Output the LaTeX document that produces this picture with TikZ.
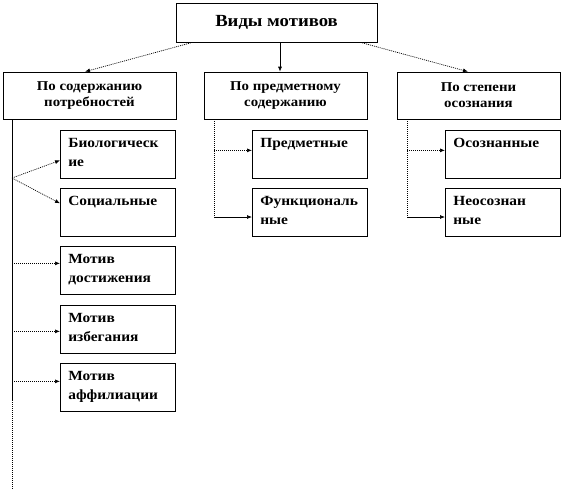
\documentclass[tikz,border=0pt]{standalone}
\usepackage{fontspec}
\setmainfont{Liberation Serif}[FakeStretch=1.1]
\usetikzlibrary{arrows.meta}

\begin{document}
\begin{tikzpicture}[x=1pt,y=-1pt,line width=0.7pt,
    box/.style={draw,align=center,font=\bfseries\fontsize{13.5}{16}\selectfont},
    kid/.style={draw,anchor=north west,text width=99pt,inner xsep=8pt,inner ysep=0pt,
      text height=17pt,text depth=31pt,align=left,font=\bfseries\fontsize{14}{19}\selectfont},
    arr/.style={-{Latex[length=5pt,width=4pt]}},
    dots/.style={dash pattern=on 1pt off 1pt}]
  \useasboundingbox (0,0) rectangle (563,493);
  % top and second level
  \node[box,minimum width=201pt,minimum height=39pt,font=\bfseries\fontsize{17}{20}\selectfont] (kinds) at (276.5,22.5) {Виды мотивов};
  \node[box,minimum width=173pt,minimum height=47pt] (need) at (89.5,95.5) {По содержанию\\потребностей};
  \node[box,minimum width=163pt,minimum height=47pt] (subj) at (285.5,95.5) {По предметному\\содержанию};
  \node[box,minimum width=163pt,minimum height=47pt] (aware) at (478.5,95.5) {По степени\\осознания};
  % children
  \node[kid] (bio) at (60,130) {Биологическ\\ие};
  \node[kid] (soc) at (60,188) {Социальные};
  \node[kid] (ach) at (60,246) {Мотив\\достижения};
  \node[kid] (avoid) at (60,305) {Мотив\\избегания};
  \node[kid] (affil) at (60,363) {Мотив\\аффилиации};
  \node[kid] (objct) at (252,130) {Предметные};
  \node[kid] (func) at (252,188) {Функциональ\\ные};
  \node[kid] (consc) at (445,130) {Осознанные};
  \node[kid] (uncons) at (445,188) {Неосознан\\ные};
  % connectors from the top
  \draw[arr,dots] ([xshift=17pt]kinds.south west) -- ([xshift=-4.5pt]need.north);
  \draw[arr] ([xshift=3.5pt]kinds.south) -- ([xshift=3.5pt]kinds.south |- subj.north);
  \draw[arr,dots] ([xshift=-17pt]kinds.south east) -- ([xshift=-10.5pt]aware.north);
  % left trunk
  \coordinate (fork) at (12,178);
  \coordinate (split) at (12,400);
  \coordinate (trunkend) at (12,490);
  \draw (need.south west -| fork) -- (split);
  \draw[dots] (split) -- (trunkend);
  \draw[arr,dots] (fork) -- ([yshift=-6pt]bio.west);
  \draw[arr,dots] (fork) -- ([yshift=9pt]soc.west);
  \foreach \k/\s in {ach/7,avoid/-2,affil/6}
    \draw[arr,dots] ([yshift=\s pt]\k.west -| fork) -- ([yshift=\s pt]\k.west);
  % middle and right elbows
  \coordinate (sb) at (214,217);
  \coordinate (ab) at (407,217);
  \draw[dots] (subj.south -| sb) -- (sb);
  \draw[arr] (sb) -- (sb -| func.west);
  \draw[arr,dots] ([yshift=4pt]objct.west -| sb) -- ([yshift=4pt]objct.west);
  \draw[dots] (aware.south -| ab) -- (ab);
  \draw[arr] (ab) -- (ab -| uncons.west);
  \draw[arr,dots] ([yshift=4pt]consc.west -| ab) -- ([yshift=4pt]consc.west);
\end{tikzpicture}
\end{document}
